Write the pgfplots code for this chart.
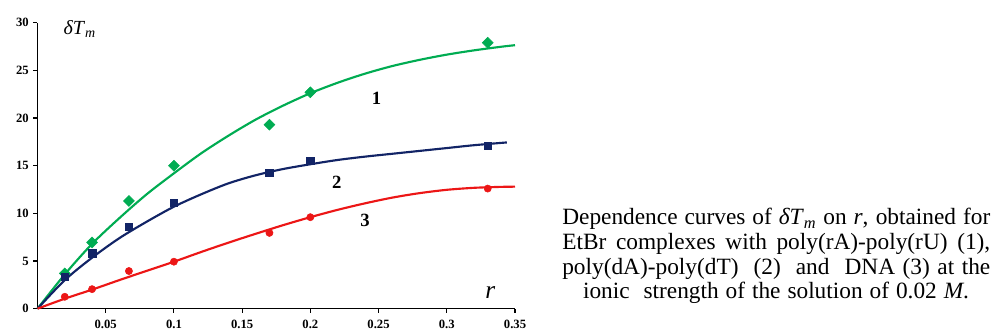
\documentclass[border=0pt]{standalone}
\usepackage{fontspec}
\setmainfont{Liberation Serif}
\usepackage{pgfplots}
\pgfplotsset{compat=1.18}
\definecolor{cgreen}{RGB}{0,172,82}
\definecolor{cblue}{RGB}{18,36,102}
\definecolor{cred}{RGB}{236,22,22}
\begin{document}
\begin{tikzpicture}
\path[use as bounding box] (-28.125pt,-16.725pt) rectangle (716.625pt,231.525pt);
\begin{axis}[
  at={(0pt,0pt)}, anchor=south west,
  scale only axis, width=358.125pt, height=214.5pt,
  xmin=0, xmax=0.35, ymin=0, ymax=30,
  axis lines=left, axis line style={-, line width=1.1pt, black},
  xtick={0.05,0.1,0.15,0.2,0.25,0.3,0.35},
  xticklabels={0.05,0.1,0.15,0.2,0.25,0.3,0.35},
  ytick={0,5,10,15,20,25,30},
  tick style={black, line width=0.8pt}, tick align=outside, major tick length=3pt,
  ticklabel style={font=\bfseries\fontsize{9.5}{10}\selectfont},
  xticklabel style={yshift=-2pt},
  /pgf/number format/assume math mode=true,
  clip=false,
]
% curve 1
\addplot[cgreen, line width=1.6pt, smooth] coordinates {
 (0,0) (0.02,3.6) (0.04,6.8) (0.06,9.5) (0.08,12.0) (0.1,14.2) (0.12,16.3)
 (0.14,18.15) (0.16,19.84) (0.18,21.3) (0.2,22.6) (0.22,23.7) (0.24,24.65)
 (0.26,25.45) (0.28,26.1) (0.3,26.65) (0.32,27.1) (0.34,27.48) (0.35,27.64)};
% curve 2
\addplot[cblue, line width=1.6pt, smooth] coordinates {
 (0,0) (0.02,3.0) (0.04,5.35) (0.06,7.4) (0.08,9.12) (0.1,10.7) (0.12,12.0)
 (0.14,13.15) (0.16,14.0) (0.18,14.65) (0.2,15.15) (0.22,15.6) (0.24,15.95)
 (0.26,16.25) (0.28,16.55) (0.3,16.85) (0.32,17.15) (0.344,17.44)};
% curve 3
\addplot[cred, line width=1.6pt, smooth] coordinates {
 (0,0) (0.02,1.05) (0.04,2.0) (0.06,3.0) (0.08,3.97) (0.1,4.93) (0.12,5.95)
 (0.14,6.93) (0.16,7.86) (0.18,8.76) (0.2,9.6) (0.22,10.37) (0.24,11.05)
 (0.26,11.65) (0.28,12.12) (0.3,12.47) (0.32,12.68) (0.34,12.78) (0.35,12.8)};
% data points
\addplot[cgreen, only marks, mark=square*, mark size=2.9pt, mark options={rotate=45}] coordinates {
 (0.02,3.7) (0.04,6.95) (0.067,11.3) (0.1,15.0) (0.17,19.3) (0.2,22.7) (0.33,27.9)};
\addplot[cblue, only marks, mark=square*, mark size=2.8pt] coordinates {
 (0.02,3.35) (0.04,5.8) (0.067,8.6) (0.1,11.1) (0.17,14.25) (0.2,15.5) (0.33,17.1)};
\addplot[cred, only marks, mark=*, mark size=2.7pt] coordinates {
 (0.02,1.25) (0.04,2.05) (0.067,3.95) (0.1,4.93) (0.17,7.95) (0.2,9.6) (0.33,12.6)};
% labels
\node[font=\bfseries\fontsize{14}{14}\selectfont] at (axis cs:0.2486,22.07) {1};
\node[font=\bfseries\fontsize{14}{14}\selectfont] at (axis cs:0.2193,13.3) {2};
\node[font=\bfseries\fontsize{14}{14}\selectfont] at (axis cs:0.240,9.30) {3};
\node[anchor=base west, inner sep=0pt, font=\fontsize{15}{15}\selectfont] at (axis cs:0.0189,28.71) {\textit{δT}\textsubscript{\textit{m}}};
\node[anchor=base, inner sep=0pt, font=\fontsize{19}{19}\selectfont] at (axis cs:0.332,1.12) {\textit{r}};
\end{axis}
% caption
\begin{scope}[every node/.style={inner sep=0pt, font=\fontsize{17.5}{18}\selectfont}]
\node[anchor=base west] at (393.4pt,62.8pt) {\makebox[321pt][s]{Dependence curves of \textit{δT}\textsubscript{\textit{m}} on \textit{r}, obtained for}};
\node[anchor=base west] at (393.4pt,44.4pt) {\makebox[321pt][s]{EtBr complexes with poly(rA)-poly(rU) (1),}};
\node[anchor=base west] at (393.4pt,26.0pt) {\makebox[321pt][s]{poly(dA)-poly(dT)\ \ (2)\ \ and\ \ DNA (3) at the}};
\node[anchor=base] at (553.9pt,7.8pt) {\makebox[289.5pt][s]{ionic\ \ strength of the solution of 0.02 \textit{M}.}};
\end{scope}
\end{tikzpicture}
\end{document}
